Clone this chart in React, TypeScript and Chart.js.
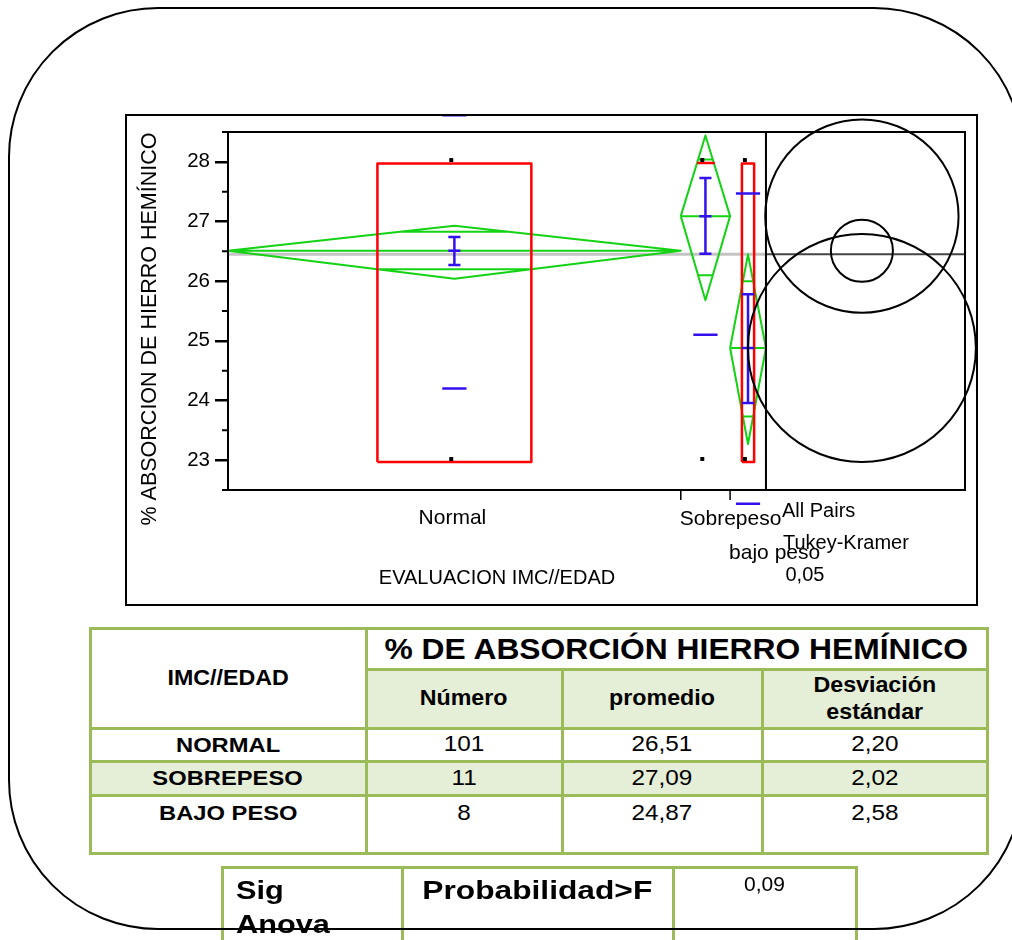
import React, { useEffect, useRef } from "react";
import { Chart, registerables } from "chart.js";
Chart.register(...registerables);

const FONT = "'Liberation Sans', Arial, Helvetica, sans-serif";

// ---------- chart data ----------
const categories = ["Normal", "Sobrepeso", "bajo peso"];
const groupCounts = [101, 11, 8];
const groupMeans = [26.51, 27.09, 24.88];
const diamondLow = [26.04, 25.68, 23.27];
const diamondHigh = [26.93, 28.44, 26.45];
const overlapLow = [26.2, 26.1, 23.73];
const overlapHigh = [26.83, 28.04, 26.0];
const errLow = [26.27, 26.46, 23.96];
const errHigh = [26.74, 27.73, 25.78];
const sdLow = [24.2, 25.1, 22.27];
const sdHigh: (number | null)[] = [28.78, null, 27.47];
const boxLow = [22.97, 27.98, 22.97];
const boxHigh = [27.97, 27.98, 27.97];
const pointValues = [
  [28.03, 23.02],
  [28.03, 23.02],
  [28.03, 23.02],
];
const grandMean = 26.45;
const circleRadii = [0.52, 1.62, 1.91];
const yTickValues = [23, 24, 25, 26, 27, 28];
const yMinorTickValues = [23.5, 24.5, 25.5, 26.5, 27.5];
const testLabels = ["All Pairs", "Tukey-Kramer", "0,05"];

// ---------- table data ----------
const tableTitle = "% DE ABSORCIÓN HIERRO HEMÍNICO";
const tableRowLabels = ["NORMAL", "SOBREPESO", "BAJO PESO"];
const tableN = ["101", "11", "8"];
const tableMean = ["26,51", "27,09", "24,87"];
const tableSD = ["2,20", "2,02", "2,58"];
const anovaP = "0,09";

// ---------- layout constants ----------
const X_MAX = 164.4;
const CIRCLE_X = 141.4;
const BOX_FRACTION = 0.34;
const CAP_HALF = 1.35;
const SD_HALF = 2.7;

const BLUE = "#3311ee";
const GREEN = "#14d214";
const RED = "#ff0000";
const TBL_GREEN = "#9bbb59";
const TBL_FILL = "#e5eed7";

const starts: number[] = [];
const ends: number[] = [];
const centers: number[] = [];
let acc = 0;
groupCounts.forEach((n) => {
  starts.push(acc);
  acc += n;
  ends.push(acc);
  centers.push((acc - n + acc) / 2);
});
const TOTAL = acc;

type P = { x: number; y: number | null };
const gap = (x: number): P => ({ x, y: null });

function buildDiamonds(): P[] {
  const pts: P[] = [];
  categories.forEach((_, i) => {
    const s = starts[i], e = ends[i], c = centers[i], m = groupMeans[i];
    const lo = diamondLow[i], hi = diamondHigh[i];
    pts.push({ x: s, y: m }, { x: c, y: hi }, { x: e, y: m }, { x: c, y: lo }, { x: s, y: m }, gap(s));
    pts.push({ x: s, y: m }, { x: e, y: m }, gap(e));
    const half = (e - s) / 2;
    const wH = half * (1 - (overlapHigh[i] - m) / (hi - m));
    const wL = half * (1 - (m - overlapLow[i]) / (m - lo));
    pts.push({ x: c - wH, y: overlapHigh[i] }, { x: c + wH, y: overlapHigh[i] }, gap(c));
    pts.push({ x: c - wL, y: overlapLow[i] }, { x: c + wL, y: overlapLow[i] }, gap(c));
  });
  return pts;
}

function buildBoxes(): P[] {
  const pts: P[] = [];
  categories.forEach((_, i) => {
    const w = (ends[i] - starts[i]) * BOX_FRACTION;
    const x0 = centers[i] - w / 2, x1 = centers[i] + w / 2;
    pts.push(
      { x: x0, y: boxLow[i] }, { x: x0, y: boxHigh[i] }, { x: x1, y: boxHigh[i] },
      { x: x1, y: boxLow[i] }, { x: x0, y: boxLow[i] }, gap(x0)
    );
  });
  return pts;
}

function buildBlue(): P[] {
  const pts: P[] = [];
  categories.forEach((_, i) => {
    const c = centers[i];
    pts.push({ x: c, y: errLow[i] }, { x: c, y: errHigh[i] }, gap(c));
    [errLow[i], errHigh[i], groupMeans[i]].forEach((v) => {
      pts.push({ x: c - CAP_HALF, y: v }, { x: c + CAP_HALF, y: v }, gap(c));
    });
    [sdLow[i], sdHigh[i]].forEach((v) => {
      if (v !== null) pts.push({ x: c - SD_HALF, y: v }, { x: c + SD_HALF, y: v }, gap(c));
    });
  });
  return pts;
}

const decorPlugin = {
  id: "decor",
  afterDraw(chart: any) {
    const { ctx, chartArea: a, scales } = chart;
    const x = scales.x, y = scales.y;
    ctx.save();
    ctx.strokeStyle = "#000";
    ctx.lineWidth = 2;
    ctx.strokeRect(126, 115, 851, 490);
    const panelX = x.getPixelForValue(TOTAL);
    ctx.beginPath();
    ctx.moveTo(a.left - 6, a.top); ctx.lineTo(a.right + 1, a.top);
    ctx.moveTo(a.left - 6, a.bottom); ctx.lineTo(a.right + 1, a.bottom);
    ctx.moveTo(a.left, a.top); ctx.lineTo(a.left, a.bottom);
    ctx.moveTo(panelX, a.top); ctx.lineTo(panelX, a.bottom);
    ctx.moveTo(a.right, a.top); ctx.lineTo(a.right, a.bottom);
    ctx.stroke();
    ctx.beginPath();
    yMinorTickValues.forEach((v) => {
      const py = y.getPixelForValue(v);
      ctx.moveTo(a.left - 6, py); ctx.lineTo(a.left, py);
    });
    ctx.stroke();
    ctx.lineWidth = 1.5;
    ctx.beginPath();
    starts.slice(1).forEach((v) => {
      const px = x.getPixelForValue(v);
      ctx.moveTo(px, a.bottom); ctx.lineTo(px, a.bottom + 10);
    });
    ctx.stroke();

    ctx.fillStyle = "#000";
    ctx.textBaseline = "middle";
    ctx.font = `21px ${FONT}`;
    ctx.textAlign = "center";
    ctx.fillText(categories[0], x.getPixelForValue(centers[0]) - 2, a.bottom + 28);
    ctx.textAlign = "left";
    ctx.fillText(categories[1], x.getPixelForValue(starts[1]) - 1, a.bottom + 29);
    ctx.fillText(categories[2], x.getPixelForValue(starts[2]) - 1, a.bottom + 63);
    ctx.font = `20px ${FONT}`;
    ctx.fillText(testLabels[0], panelX + 16, a.bottom + 21);
    ctx.fillText(testLabels[1], panelX + 17, a.bottom + 53);
    ctx.textAlign = "center";
    ctx.fillText(testLabels[2], panelX + 39, a.bottom + 85);
    ctx.fillText("EVALUACION IMC//EDAD", 497, 578);

    ctx.translate(150, 329);
    ctx.rotate(-Math.PI / 2);
    ctx.font = `21.5px ${FONT}`;
    ctx.fillText("% ABSORCION DE HIERRO HEMÍNICO", 0, 0);
    ctx.restore();
  },
};

function ChartCanvas() {
  const ref = useRef<HTMLCanvasElement | null>(null);
  useEffect(() => {
    if (!ref.current) return;
    const lineDefaults = {
      type: "line" as const,
      showLine: true,
      pointRadius: 0,
      pointHoverRadius: 0,
      fill: false,
      spanGaps: false,
      clip: false as any,
      borderJoinStyle: "round" as const,
    };
    const circleRadius = (c: any) => {
      const s = c.chart.scales.y;
      const d = c.raw;
      return Math.abs(s.getPixelForValue(d.y) - s.getPixelForValue(d.y + d.rad));
    };
    const chart = new Chart(ref.current, {
      type: "scatter",
      data: {
        datasets: [
          {
            type: "scatter",
            data: circleRadii.map((r, i) => ({ x: CIRCLE_X, y: groupMeans[i], rad: r })),
            pointRadius: circleRadius,
            pointHoverRadius: circleRadius,
            pointBackgroundColor: "rgba(0,0,0,0)",
            pointBorderColor: "#000",
            pointBorderWidth: 2,
            clip: false as any,
            order: 1,
          } as any,
          {
            type: "scatter",
            data: pointValues.flatMap((vals, i) => vals.map((v) => ({ x: centers[i] - 0.7, y: v }))),
            pointStyle: "rect",
            pointRadius: 2.8,
            pointBorderWidth: 0,
            pointBackgroundColor: "#000",
            clip: false as any,
            order: 2,
          } as any,
          { ...lineDefaults, data: buildBlue(), borderColor: BLUE, borderWidth: 2.5, order: 3 } as any,
          { ...lineDefaults, data: buildBoxes(), borderColor: RED, borderWidth: 2.5, order: 4 } as any,
          { ...lineDefaults, data: buildDiamonds(), borderColor: GREEN, borderWidth: 2, order: 5 } as any,
          {
            ...lineDefaults,
            data: [{ x: TOTAL, y: grandMean }, { x: X_MAX, y: grandMean }],
            borderColor: "#444",
            borderWidth: 2,
            order: 6,
          } as any,
          {
            ...lineDefaults,
            data: [{ x: 0, y: grandMean }, { x: TOTAL, y: grandMean }],
            borderColor: "#c4c4c4",
            borderWidth: 3,
            order: 7,
          } as any,
        ],
      },
      options: {
        responsive: false,
        animation: false,
        devicePixelRatio: 1,
        events: [],
        layout: { padding: { left: 0, top: 132, right: 47, bottom: 450 } },
        plugins: { legend: { display: false }, tooltip: { enabled: false } },
        scales: {
          x: { type: "linear", min: 0, max: X_MAX, display: false },
          y: {
            type: "linear",
            min: 22.5,
            max: 28.5,
            position: "left",
            afterFit: (s: any) => {
              s.width = 228;
            },
            afterBuildTicks: (s: any) => {
              s.ticks = yTickValues.map((v) => ({ value: v }));
            },
            ticks: { font: { family: FONT, size: 20.5 }, color: "#000", padding: 5 },
            grid: { drawOnChartArea: false, drawTicks: true, tickLength: 13, color: "#000", lineWidth: 2.5 },
            border: { display: false },
          } as any,
        },
      },
      plugins: [decorPlugin],
    });
    return () => chart.destroy();
  }, []);
  return (
    <canvas
      ref={ref}
      width={1012}
      height={940}
      style={{ position: "absolute", left: 0, top: 0, width: 1012, height: 940 }}
    />
  );
}

type CellProps = {
  x0: number; x1: number; y0: number; y1: number;
  bg?: string; style?: React.CSSProperties; children?: React.ReactNode;
};
function Cell({ x0, x1, y0, y1, bg, style, children }: CellProps) {
  return (
    <div
      style={{
        position: "absolute",
        left: x0 - 1.5,
        top: y0 - 1.5,
        width: x1 - x0 + 3,
        height: y1 - y0 + 3,
        border: `3px solid ${TBL_GREEN}`,
        boxSizing: "border-box",
        background: bg || "transparent",
        display: "flex",
        alignItems: "center",
        justifyContent: "center",
        textAlign: "center",
        fontFamily: FONT,
        color: "#000",
        whiteSpace: "nowrap",
        ...style,
      }}
    >
      {children}
    </div>
  );
}

function Wide({ k, origin = "center", children }: { k: number; origin?: string; children: React.ReactNode }) {
  return (
    <span style={{ display: "inline-block", transform: `scaleX(${k})`, transformOrigin: origin }}>{children}</span>
  );
}

function Tables() {
  const X = [90, 366, 562, 762, 987];
  const Y = [628, 669, 728, 761, 795, 853];
  const hdr: React.CSSProperties = { fontWeight: "bold", fontSize: 21.5 };
  const lab: React.CSSProperties = { fontWeight: "bold", fontSize: 21 };
  const val: React.CSSProperties = { fontSize: 21.5 };
  const K = 1.13;
  const rows = tableRowLabels.map((label, i) => {
    const y0 = Y[2 + i], y1 = Y[3 + i];
    const bg = i === 1 ? TBL_FILL : "#fff";
    const last = i === 2;
    const extra: React.CSSProperties = last ? { alignItems: "flex-start", lineHeight: "32px" } : {};
    return (
      <React.Fragment key={label}>
        <Cell x0={X[0]} x1={X[1]} y0={y0} y1={y1} bg={bg} style={{ ...lab, ...extra }}><Wide k={K}>{label}</Wide></Cell>
        <Cell x0={X[1]} x1={X[2]} y0={y0} y1={y1} bg={bg} style={{ ...val, ...extra }}><Wide k={K}>{tableN[i]}</Wide></Cell>
        <Cell x0={X[2]} x1={X[3]} y0={y0} y1={y1} bg={bg} style={{ ...val, ...extra }}><Wide k={K}>{tableMean[i]}</Wide></Cell>
        <Cell x0={X[3]} x1={X[4]} y0={y0} y1={y1} bg={bg} style={{ ...val, ...extra }}><Wide k={K}>{tableSD[i]}</Wide></Cell>
      </React.Fragment>
    );
  });
  const SX = [222, 402, 673, 856];
  const SY0 = 867, SY1 = 980;
  return (
    <>
      <Cell x0={X[0]} x1={X[1]} y0={Y[0]} y1={Y[2]} bg="#fff" style={hdr}><Wide k={1.08}>IMC//EDAD</Wide></Cell>
      <Cell x0={X[1]} x1={X[4]} y0={Y[0]} y1={Y[1]} bg="#fff" style={{ fontWeight: "bold", fontSize: 30 }}>
        <Wide k={1.06}>{tableTitle}</Wide>
      </Cell>
      <Cell x0={X[1]} x1={X[2]} y0={Y[1]} y1={Y[2]} bg={TBL_FILL} style={hdr}><Wide k={1.08}>Número</Wide></Cell>
      <Cell x0={X[2]} x1={X[3]} y0={Y[1]} y1={Y[2]} bg={TBL_FILL} style={hdr}><Wide k={1.08}>promedio</Wide></Cell>
      <Cell x0={X[3]} x1={X[4]} y0={Y[1]} y1={Y[2]} bg={TBL_FILL} style={{ ...hdr, lineHeight: "27px" }}>
        <Wide k={1.08}>Desviación<br />estándar</Wide>
      </Cell>
      {rows}
      <Cell
        x0={SX[0]} x1={SX[1]} y0={SY0} y1={SY1}
        style={{ fontWeight: "bold", fontSize: 26, lineHeight: "34px", alignItems: "flex-start", justifyContent: "flex-start", textAlign: "left", paddingLeft: 12, paddingTop: 4 }}
      >
        <Wide k={1.18} origin="left">Sig<br />Anova</Wide>
      </Cell>
      <Cell
        x0={SX[1]} x1={SX[2]} y0={SY0} y1={SY1}
        style={{ fontWeight: "bold", fontSize: 26, lineHeight: "34px", alignItems: "flex-start", paddingTop: 4 }}
      >
        <Wide k={1.22}>Probabilidad&gt;F</Wide>
      </Cell>
      <Cell
        x0={SX[2]} x1={SX[3]} y0={SY0} y1={SY1}
        style={{ fontSize: 20, lineHeight: "28px", alignItems: "flex-start", paddingTop: 1 }}
      >
        <Wide k={1.05}>{anovaP}</Wide>
      </Cell>
    </>
  );
}

export default function App() {
  return (
    <div
      style={{
        position: "absolute",
        left: 0,
        top: 0,
        width: 1012,
        height: 940,
        overflow: "hidden",
        background: "#fff",
      }}
    >
      <ChartCanvas />
      <Tables />
      <div
        style={{
          position: "absolute",
          left: 8,
          top: 7,
          width: 1016,
          height: 923,
          border: "2px solid #000",
          borderRadius: 150,
          boxSizing: "border-box",
          pointerEvents: "none",
        }}
      />
    </div>
  );
}
